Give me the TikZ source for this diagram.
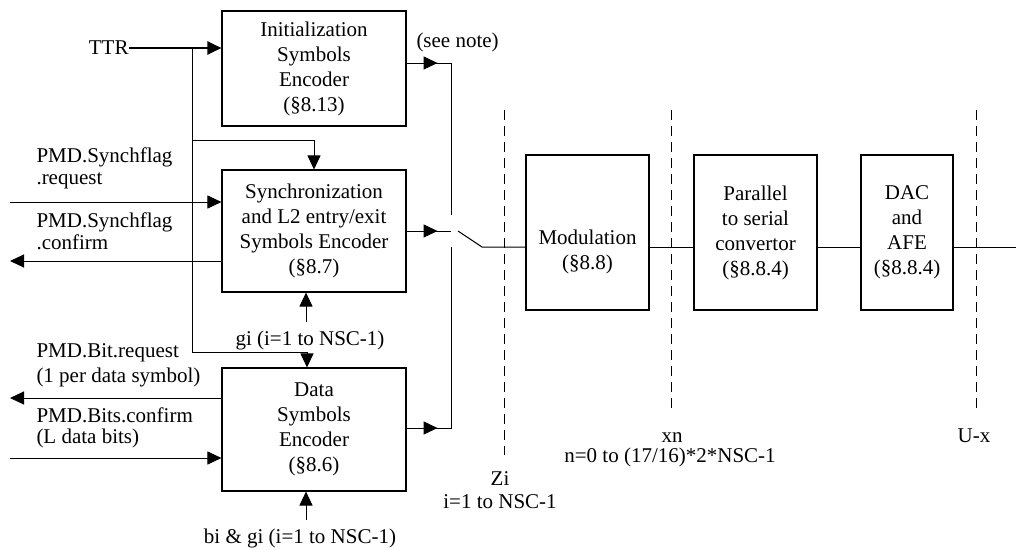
\documentclass[tikz,border=0pt]{standalone}
\usepackage{fontspec}
\setmainfont{Liberation Serif}
\usetikzlibrary{arrows.meta}
\begin{document}
\begin{tikzpicture}[x=1pt,y=-1pt, font=\fontsize{21}{25}\selectfont, line width=1pt,
  box/.style={draw, line width=1.1pt, align=center, inner sep=0pt},
  arr/.style={-{Triangle[length=14pt,width=13pt]}},
  lbl/.style={inner sep=0pt, anchor=base west},
  clbl/.style={inner sep=0pt, anchor=base},
  dashline/.style={dash pattern=on 10pt off 6pt}]
\useasboundingbox (0,0) rectangle (1016,549);

% blocks
\node[box, minimum width=184pt, minimum height=115pt] (init) at (314,68.5) {Initialization\\Symbols\\Encoder\\(§8.13)};
\node[box, minimum width=184pt, minimum height=122pt] (sync) at (314,231) {Synchronization\\and L2 entry/exit\\Symbols Encoder\\(§8.7)};
\node[box, minimum width=184pt, minimum height=123pt] (data) at (314,429.5) {Data\\Symbols\\Encoder\\(§8.6)};
\node[box, minimum width=123pt, minimum height=155pt] (mod) at (587.5,232.5) {};
\node[align=center, inner sep=0pt] (modtext) at (587.5,252) {Modulation\\(§8.8)};
\node[box, minimum width=123pt, minimum height=155pt] (par) at (755.5,232.5) {Parallel\\to serial\\convertor\\(§8.8.4)};
\node[box, minimum width=92pt, minimum height=155pt] (dac) at (907,232.5) {DAC\\and\\AFE\\(§8.8.4)};

% labels
\node[inner sep=0pt, anchor=east] (ttr) at (129,48) {TTR};
\node[lbl] (sreq1) at (36,162) {PMD.Synchflag};
\node[lbl] (sreq2) at (36,184) {.request};
\node[lbl] (scf1) at (36,227) {PMD.Synchflag};
\node[lbl] (scf2) at (36,249) {.confirm};
\node[lbl] (breq1) at (36,357) {PMD.Bit.request};
\node[lbl] (breq2) at (36,382) {(1 per data symbol)};
\node[lbl] (bcf1) at (36,422) {PMD.Bits.confirm};
\node[lbl] (bcf2) at (36,443) {(L data bits)};
\node[lbl] (note) at (416,47) {(see note)};
\node[clbl] (gi) at (310,345) {gi (i=1 to NSC-1)};
\node[clbl] (bigi) at (300,543) {bi \& gi (i=1 to NSC-1)};
\node[clbl] (zi1) at (500,485) {Zi};
\node[clbl] (zi2) at (500,508) {i=1 to NSC-1};
\node[clbl] (xn1) at (672,442) {xn};
\node[clbl] (xn2) at (670,462) {n=0 to (17/16)*2*NSC-1};
\node[clbl] (ux) at (974,442) {U-x};

% coordinates
\coordinate (busT) at (192,48);
\coordinate (busS) at (192,140);
\coordinate (busB) at (192,352);
\coordinate (dA) at (307,352);
\coordinate (giS) at (306,322);
\coordinate (biS) at (306,520);
\coordinate (reqS) at (10,202);
\coordinate (cfE) at (10,261);
\coordinate (brE) at (10,398);
\coordinate (bcS) at (10,458);
\coordinate (sw1) at (451,63);
\coordinate (swA) at (451,215);
\coordinate (sw2) at (451,231);
\coordinate (swB) at (451,247);
\coordinate (sw3) at (451,428);
\coordinate (bl1) at (458,231);
\coordinate (bl2) at (482,247);
\coordinate (ly) at (0,247);
\coordinate (rOut) at (1016,247);
\coordinate (ziT) at (504,110);
\coordinate (ziB) at (504,455);
\coordinate (xnT) at (671,110);
\coordinate (xnB) at (671,408);
\coordinate (uxT) at (976,110);
\coordinate (uxB) at (976,408);

% TTR distribution
\draw[arr, line width=2.2pt] (ttr.east) -- (ttr.east -| init.west);
\draw (busT) -- (busB) -- (dA);
\draw[arr] (dA) -- (dA |- data.north);
\draw (busS) -- (busS -| sync.north);
\draw[arr] (busS -| sync.north) -- (sync.north);

% side inputs/outputs
\draw[arr] (giS) -- (giS |- sync.south);
\draw[arr] (biS) -- (biS |- data.south);
\draw[arr] (reqS) -- (reqS -| sync.west);
\draw[arr] (cfE -| sync.west) -- (cfE);
\draw[arr] (brE -| data.west) -- (brE);
\draw[arr] (bcS) -- (bcS -| data.west);

% switch
\draw (init.east |- sw1) -- (sw1) -- (swA);
\draw[arr] (init.east |- sw1) -- ++(31,0);
\draw (sync.east |- sw2) -- (sw2);
\draw[arr] (sync.east |- sw2) -- ++(31,0);
\draw (data.east |- sw3) -- (sw3) -- (swB);
\draw[arr] (data.east |- sw3) -- ++(31,0);
\draw (bl1) -- (bl2) -- (mod.west |- ly);

% chain
\draw (mod.east |- ly) -- (par.west |- ly);
\draw (par.east |- ly) -- (dac.west |- ly);
\draw (dac.east |- ly) -- (rOut);

% reference points
\draw[dashline] (ziT) -- (ziB);
\draw[dashline] (xnT) -- (xnB);
\draw[dashline] (uxT) -- (uxB);
\end{tikzpicture}
\end{document}
